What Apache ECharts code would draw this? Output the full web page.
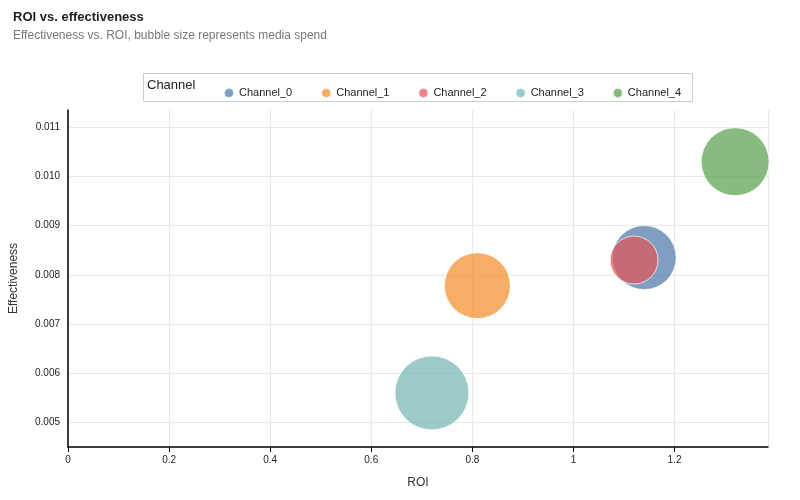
<!DOCTYPE html>
<html><head><meta charset="utf-8">
<script src="https://cdn.jsdelivr.net/npm/echarts@6/dist/echarts.min.js"></script>
<style>html,body{margin:0;padding:0;background:#fff}#c{width:800px;height:500px}</style>
</head><body><div id="c"></div>
<script>
const channels = ['Channel_0','Channel_1','Channel_2','Channel_3','Channel_4'];
const roi = [1.14, 0.81, 1.12, 0.72, 1.32];
const effectiveness = [0.00835, 0.00778, 0.0083, 0.0056, 0.0103];
const spend = [410, 435, 230, 548, 462];
const colors = ['#4e79a7','#f28e2b','#e15759','#76b7b2','#59a14f'];
const xTicks = [0, 0.2, 0.4, 0.6, 0.8, 1, 1.2];

const chart = echarts.init(document.getElementById('c'));
chart.setOption({
  animation:false,
  title:{text:'ROI vs. effectiveness', subtext:'Effectiveness vs. ROI, bubble size represents media spend',
    left:8, top:6, itemGap:6,
    textStyle:{fontFamily:'Arial',fontSize:13,fontWeight:'bold',color:'#222'},
    subtextStyle:{fontFamily:'Arial',fontSize:12,color:'#777'}},
  graphic:[
    {type:'rect',left:143,top:73,shape:{width:549,height:28},style:{fill:'#fff',stroke:'#ccc',lineWidth:1}},
    {type:'text',left:147,top:79,style:{text:'Channel',font:'13px Arial',fill:'#222'}}
  ],
  legend:{data:channels, left:218, top:82, icon:'circle', itemWidth:10, itemHeight:10, itemGap:28,
    textStyle:{fontFamily:'Arial',fontSize:11,color:'#222'}},
  grid:{left:66,right:32,top:110,bottom:53},
  xAxis:{type:'value', min:0, max:1.385, interval:0.2, name:'ROI', nameLocation:'middle', nameGap:30,
    nameTextStyle:{fontFamily:'Arial',fontSize:12,color:'#333'},
    axisLine:{show:true,lineStyle:{color:'#000',width:1.5}}, axisTick:{show:true,lineStyle:{color:'#000'}},
    axisLabel:{fontFamily:'Arial',fontSize:10,color:'#222',showMaxLabel:false,
      formatter:v=>xTicks.some(t=>Math.abs(t-v)<1e-9)?String(+v.toFixed(1)):''},
    splitLine:{show:true,lineStyle:{color:'#e8e8e8'}}},
  yAxis:{type:'value', min:0.0045, max:0.01135, interval:0.0005, name:'Effectiveness', nameLocation:'middle', nameGap:48,
    nameTextStyle:{fontFamily:'Arial',fontSize:12,color:'#333'},
    axisLine:{show:true,lineStyle:{color:'#000',width:1.5}}, axisTick:{show:false},
    axisLabel:{fontFamily:'Arial',fontSize:10,color:'#222',
      formatter:v=>{const r=Math.round(v*10000);return (r%10===0 && Math.abs(v*10000-r)<1e-6)?v.toFixed(3):'';}},
    splitLine:{show:true,lineStyle:{color:['rgba(0,0,0,0)','#e8e8e8']}}},
  series: channels.map((c,i)=>({
    name:c, type:'scatter',
    data:[[roi[i], effectiveness[i], spend[i]]],
    symbolSize:d=>Math.sqrt(d[2])*3.16,
    itemStyle:{color:colors[i], opacity:0.72, borderColor:'#fff', borderWidth:1}
  }))
});
</script></body></html>
